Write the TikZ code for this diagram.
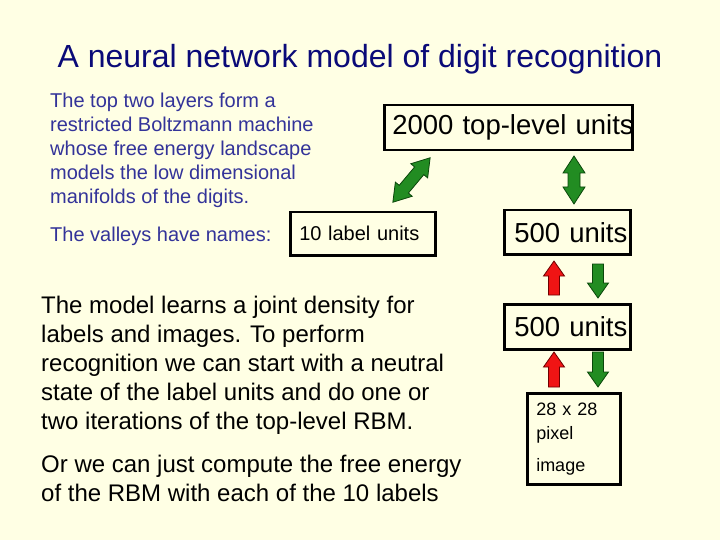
\documentclass[tikz,border=0pt]{standalone}
\usepackage{fontspec}
\setmainfont{Liberation Sans}
\definecolor{bgyellow}{RGB}{255,255,228}
\definecolor{titlenavy}{RGB}{10,10,120}
\definecolor{textblue}{RGB}{51,51,153}
\definecolor{arrgreen}{RGB}{34,140,34}
\definecolor{arrgreenedge}{RGB}{10,70,10}
\definecolor{arrred}{RGB}{240,20,20}
\definecolor{arrrededge}{RGB}{110,0,0}
\tikzset{
  unitbox/.style={draw=black, line width=2.5pt, anchor=north west, inner ysep=0pt, align=left},
  greenarrow/.style={fill=arrgreen, draw=arrgreenedge, line width=0.8pt, line join=miter},
  redarrow/.style={fill=arrred, draw=arrrededge, line width=0.8pt, line join=miter},
  pics/onearrow/.style n args={2}{code={
    \path[#2] (0,-5.5) -- (#1-15,-5.5) -- (#1-15,-10.5) -- (#1,0) -- (#1-15,10.5) -- (#1-15,5.5) -- (0,5.5) -- cycle;}},
  pics/twoarrow/.style n args={2}{code={
    \path[#2] (-#1/2,0) -- (-#1/2+17,-11) -- (-#1/2+17,-6) -- (#1/2-17,-6) -- (#1/2-17,-11) -- (#1/2,0)
      -- (#1/2-17,11) -- (#1/2-17,6) -- (-#1/2+17,6) -- (-#1/2+17,11) -- cycle;}},
}
\begin{document}
\begin{tikzpicture}[x=1pt,y=-1pt]
\fill[bgyellow] (0,0) rectangle (720,540);
\useasboundingbox (0,0) rectangle (720,540);

\node[anchor=base, font=\fontsize{32}{38}\selectfont, text=titlenavy, inner sep=0] (title) at (360,68)
  {A neural network model of digit recognition};

\node[anchor=north west, align=left, inner sep=0, text=textblue, font=\fontsize{20}{24}\selectfont] (rbmtext) at (50,92.5)
  {The top two layers form a\\ restricted Boltzmann machine\\ whose free energy landscape\\ models the low dimensional\\ manifolds of the digits.};
\node[anchor=base west, inner sep=0, text=textblue, font=\fontsize{20}{24}\selectfont] (valleys) at (50,241)
  {The valleys have names:};

\node[anchor=north west, align=left, inner sep=0, font=\fontsize{24}{29}\selectfont] (learn) at (41,295.5)
  {The model learns a joint density for\\ labels and images. To perform\\ recognition we can start with a neutral\\ state of the label units and do one or\\ two iterations of the top-level RBM.};
\node[anchor=north west, align=left, inner sep=0, font=\fontsize{24}{29}\selectfont] (energy) at (41,454.5)
  {Or we can just compute the free energy\\ of the RBM with each of the 10 labels};

\node[unitbox, minimum width=248, minimum height=45, inner xsep=8pt, text width=232pt, font=\fontsize{27.5}{33}\selectfont] (top) at (383,104) {\mbox{2000 top-level units}};
\node[unitbox, minimum width=145, minimum height=43, inner xsep=9pt, text width=127pt, font=\fontsize{20}{24}\selectfont] (label) at (289,211) {\mbox{10 label units}};
\node[unitbox, minimum width=126, minimum height=44, inner xsep=10pt, text width=106pt, font=\fontsize{27.5}{33}\selectfont] (hidA) at (503,209) {\mbox{500 units}};
\node[unitbox, minimum width=126, minimum height=45, inner xsep=10pt, text width=106pt, font=\fontsize{27.5}{33}\selectfont] (hidB) at (503,303) {\mbox{500 units}};
\node[unitbox, minimum width=93, minimum height=91, inner xsep=9pt, text width=75pt, font=\fontsize{18}{24}\selectfont] (pix) at (526,392) {28 x 28\\ pixel\\[8pt] image};

% arrows
\pic[rotate=50] at (411.5,180) {twoarrow={58}{greenarrow}};
\pic[rotate=90] at (574,180) {twoarrow={48}{greenarrow}};
\pic[rotate=90] at (554,295) {onearrow={34}{redarrow}};
\pic[rotate=-90] at (598,264) {onearrow={34}{greenarrow}};
\pic[rotate=90] at (554,387) {onearrow={35}{redarrow}};
\pic[rotate=-90] at (598,352) {onearrow={35}{greenarrow}};
\end{tikzpicture}
\end{document}
